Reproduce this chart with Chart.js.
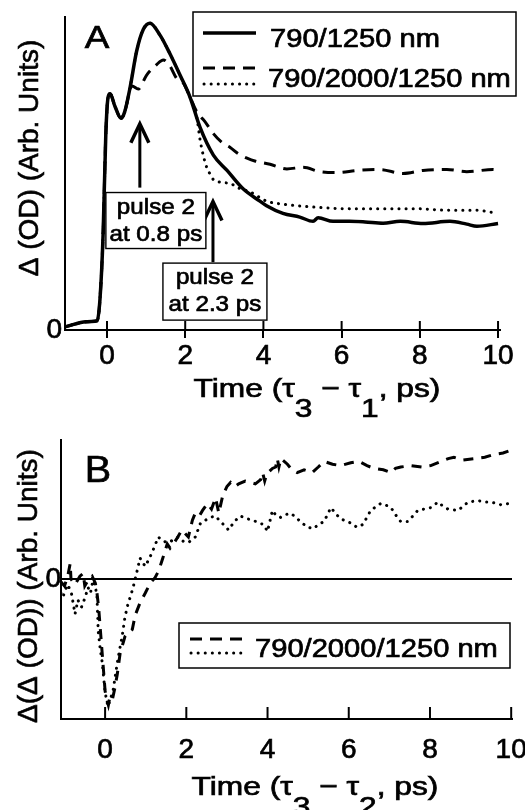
<!DOCTYPE html>
<html>
<head>
<meta charset="utf-8">
<script src="https://cdn.jsdelivr.net/npm/chart.js@4.4.0/dist/chart.umd.min.js"></script>
<style>
html, body { margin: 0; padding: 0; background: #fff; }
#a { position: absolute; left: 0; top: 0; width: 525px; height: 420px; }
#b { position: absolute; left: 0; top: 420px; width: 525px; height: 390px; }
</style>
</head>
<body>
<div id="a"><canvas id="chartA"></canvas></div>
<div id="b"><canvas id="chartB"></canvas></div>
<script>
const FONT = "'Liberation Sans', Arial, Helvetica, sans-serif";
Chart.defaults.font.family = FONT;
Chart.defaults.color = '#000';

const xTicks = [0, 2, 4, 6, 8, 10];
const yTicks = [0];
const legendA = ['790/1250 nm', '790/2000/1250 nm'];
const legendB = '790/2000/1250 nm';

// panel A: 790/1250 nm (solid)
const aSolidX = [-1.07, -0.8, -0.6, -0.4, -0.25, -0.18, -0.1, -0.03, 0.03, 0.08, 0.2, 0.36, 0.45, 0.59, 0.76, 0.93, 1.1, 1.36, 1.61, 1.87, 2.12, 2.38, 2.72, 3.07, 3.48, 3.91, 4.08, 4.5, 4.93, 5.27, 5.4, 5.78, 6.2, 6.6, 7.06, 7.5, 8.08, 8.77, 9.2, 9.46, 10.0];
const aSolidY = [0.01, 0.02, 0.026, 0.028, 0.03, 0.1, 0.31, 0.64, 0.76, 0.77, 0.73, 0.69, 0.71, 0.79, 0.91, 0.98, 1.0, 0.96, 0.90, 0.83, 0.76, 0.66, 0.57, 0.52, 0.46, 0.42, 0.405, 0.38, 0.368, 0.354, 0.366, 0.354, 0.354, 0.352, 0.348, 0.354, 0.347, 0.354, 0.345, 0.338, 0.347];
// panel A: pulse 2 at 0.8 ps (dashed)
const aDashX = [-1.07, -0.8, -0.6, -0.4, -0.25, -0.18, -0.1, -0.03, 0.03, 0.08, 0.2, 0.36, 0.45, 0.64, 0.8, 1.01, 1.27, 1.44, 1.61, 1.78, 1.95, 2.12, 2.3, 2.5, 2.72, 2.95, 3.15, 3.35, 3.58, 3.8, 4.17, 4.6, 5.01, 5.45, 5.91, 6.39, 6.98, 7.57, 8.08, 8.69, 9.2, 9.87, 10.0];
const aDashY = [0.01, 0.02, 0.026, 0.028, 0.03, 0.1, 0.31, 0.64, 0.76, 0.77, 0.73, 0.69, 0.71, 0.795, 0.785, 0.83, 0.865, 0.88, 0.86, 0.82, 0.805, 0.76, 0.71, 0.68, 0.64, 0.61, 0.595, 0.575, 0.56, 0.55, 0.54, 0.525, 0.53, 0.516, 0.513, 0.52, 0.523, 0.51, 0.52, 0.523, 0.516, 0.523, 0.52];
// panel A: pulse 2 at 2.3 ps (dotted)
const aDotX = [-1.07, -0.8, -0.6, -0.4, -0.25, -0.18, -0.1, -0.03, 0.03, 0.08, 0.2, 0.36, 0.45, 0.59, 0.76, 0.93, 1.1, 1.36, 1.61, 1.87, 2.12, 2.3, 2.38, 2.46, 2.55, 2.65, 2.72, 2.85, 2.97, 3.15, 3.32, 3.66, 4.08, 4.5, 5.36, 6.2, 7.06, 7.92, 8.77, 9.45, 10.0];
const aDotY = [0.01, 0.02, 0.026, 0.028, 0.03, 0.1, 0.31, 0.64, 0.76, 0.77, 0.73, 0.69, 0.71, 0.79, 0.91, 0.98, 1.0, 0.96, 0.90, 0.83, 0.76, 0.69, 0.62, 0.57, 0.53, 0.505, 0.49, 0.483, 0.48, 0.478, 0.465, 0.45, 0.42, 0.41, 0.40, 0.395, 0.395, 0.395, 0.39, 0.39, 0.38];

// panel B: difference traces
const bDashX = [-1.09, -1.0, -0.92, -0.86, -0.84, -0.74, -0.62, -0.54, -0.5, -0.4, -0.32, -0.24, -0.2, -0.16, -0.12, -0.08, -0.04, 0.0, 0.04, 0.08, 0.12, 0.18, 0.24, 0.3, 0.37, 0.45, 0.49, 0.58, 0.67, 0.74, 0.86, 0.99, 1.11, 1.23, 1.32, 1.4, 1.53, 1.6, 1.68, 1.79, 1.89, 2.05, 2.15, 2.22, 2.32, 2.4, 2.52, 2.62, 2.72, 2.8, 2.9, 3.0, 3.09, 3.2, 3.29, 3.45, 3.58, 3.7, 3.83, 3.88, 3.93, 3.98, 4.12, 4.2, 4.24, 4.28, 4.33, 4.49, 4.6, 4.73, 4.9, 5.1, 5.25, 5.39, 5.6, 5.8, 6.05, 6.25, 6.45, 6.62, 6.85, 7.04, 7.15, 7.28, 7.53, 7.8, 8.02, 8.27, 8.45, 8.59, 8.8, 9.09, 9.35, 9.58, 9.8, 10.0];
const bDashY = [-0.02, -0.05, 0.02, 0.11, 0.0, -0.04, 0.02, 0.04, -0.05, 0.0, 0.02, -0.03, -0.1, -0.2, -0.35, -0.5, -0.65, -0.8, -0.86, -0.9, -0.84, -0.86, -0.78, -0.68, -0.53, -0.45, -0.41, -0.38, -0.36, -0.26, -0.17, -0.1, -0.03, 0.01, 0.06, 0.13, 0.25, 0.22, 0.25, 0.3, 0.35, 0.3, 0.42, 0.47, 0.45, 0.49, 0.54, 0.5, 0.58, 0.47, 0.6, 0.66, 0.69, 0.66, 0.68, 0.7, 0.69, 0.68, 0.71, 0.76, 0.7, 0.75, 0.79, 0.8, 0.86, 0.8, 0.86, 0.82, 0.78, 0.76, 0.78, 0.76, 0.8, 0.84, 0.82, 0.81, 0.83, 0.84, 0.81, 0.79, 0.78, 0.76, 0.79, 0.8, 0.81, 0.8, 0.81, 0.84, 0.86, 0.87, 0.85, 0.86, 0.87, 0.89, 0.9, 0.92];
const bDotX = [-1.09, -1.04, -0.98, -0.92, -0.83, -0.74, -0.67, -0.58, -0.49, -0.42, -0.36, -0.3, -0.24, -0.2, -0.17, -0.12, -0.07, -0.03, 0.0, 0.07, 0.13, 0.2, 0.3, 0.36, 0.42, 0.49, 0.57, 0.63, 0.69, 0.79, 0.86, 0.92, 0.99, 1.11, 1.2, 1.31, 1.43, 1.56, 1.68, 1.8, 1.92, 2.05, 2.22, 2.35, 2.47, 2.59, 2.72, 2.84, 2.95, 3.04, 3.18, 3.33, 3.5, 3.65, 3.78, 3.9, 4.0, 4.12, 4.22, 4.32, 4.45, 4.57, 4.7, 4.81, 4.98, 5.14, 5.25, 5.39, 5.56, 5.7, 5.8, 6.05, 6.2, 6.35, 6.54, 6.79, 6.9, 7.04, 7.15, 7.28, 7.45, 7.58, 7.7, 7.86, 8.02, 8.2, 8.32, 8.44, 8.69, 8.82, 8.94, 9.19, 9.35, 9.5, 9.75, 9.95];
const bDotY = [-0.1, -0.13, -0.08, -0.04, -0.1, -0.25, -0.15, -0.2, -0.13, -0.06, -0.1, -0.01, -0.05, -0.13, -0.37, -0.5, -0.6, -0.72, -0.81, -0.91, -0.86, -0.79, -0.6, -0.5, -0.41, -0.27, -0.17, -0.12, -0.06, 0.06, 0.15, 0.12, 0.09, 0.16, 0.22, 0.3, 0.27, 0.26, 0.28, 0.3, 0.27, 0.26, 0.3, 0.4, 0.42, 0.44, 0.45, 0.41, 0.38, 0.35, 0.41, 0.45, 0.43, 0.42, 0.4, 0.39, 0.34, 0.49, 0.45, 0.44, 0.46, 0.47, 0.44, 0.41, 0.37, 0.36, 0.39, 0.41, 0.51, 0.46, 0.43, 0.4, 0.37, 0.39, 0.49, 0.54, 0.53, 0.51, 0.46, 0.41, 0.41, 0.45, 0.49, 0.5, 0.51, 0.55, 0.52, 0.5, 0.49, 0.52, 0.55, 0.56, 0.55, 0.55, 0.53, 0.54];

const DASH = [12, 8];
const DOT = [0.1, 7];

function pts(xs, ys) { return xs.map((x, i) => ({ x: x, y: ys[i] })); }

// text drawn left-to-right in pieces, stretched horizontally, lightly stroked for weight
function spans(ctx, parts, x, y, align, sx) {
  let w = 0;
  parts.forEach(p => { ctx.font = p[1] + 'px ' + FONT; w += ctx.measureText(p[0]).width; });
  const start = align === 'center' ? x - w * sx / 2 : x;
  ctx.save();
  ctx.translate(start, y);
  ctx.scale(sx, 1);
  ctx.fillStyle = '#000';
  ctx.strokeStyle = '#000';
  ctx.lineWidth = 0.7;
  ctx.textAlign = 'left';
  ctx.textBaseline = 'alphabetic';
  let cx = 0;
  parts.forEach(p => {
    ctx.font = p[1] + 'px ' + FONT;
    ctx.fillText(p[0], cx, p[2] || 0);
    ctx.strokeText(p[0], cx, p[2] || 0);
    cx += ctx.measureText(p[0]).width;
  });
  ctx.restore();
}

function vText(ctx, t, x, y, size) {
  ctx.save();
  ctx.translate(x, y);
  ctx.rotate(-Math.PI / 2);
  ctx.font = size + 'px ' + FONT;
  ctx.fillStyle = '#000';
  ctx.strokeStyle = '#000';
  ctx.lineWidth = 0.6;
  ctx.textAlign = 'center';
  ctx.textBaseline = 'middle';
  ctx.fillText(t, 0, 0);
  ctx.strokeText(t, 0, 0);
  ctx.restore();
}

function sample(ctx, x1, x2, y, dash, w) {
  ctx.save();
  ctx.strokeStyle = '#000';
  ctx.setLineDash(dash);
  ctx.lineCap = dash === DOT ? 'round' : 'butt';
  ctx.lineWidth = w;
  ctx.beginPath();
  ctx.moveTo(x1, y);
  ctx.lineTo(x2, y);
  ctx.stroke();
  ctx.restore();
}

function upTicks(chart, len) {
  const s = chart.scales.x, ctx = chart.ctx, b = chart.chartArea.bottom;
  ctx.save();
  ctx.strokeStyle = '#000';
  ctx.lineWidth = 2;
  xTicks.forEach(v => {
    const px = s.getPixelForValue(v);
    ctx.beginPath();
    ctx.moveTo(px, b);
    ctx.lineTo(px, b - len);
    ctx.stroke();
  });
  ctx.restore();
}

function arrow(ctx, x, yFrom, yTip) {
  ctx.save();
  ctx.strokeStyle = '#000';
  ctx.lineWidth = 3;
  ctx.beginPath();
  ctx.moveTo(x, yFrom);
  ctx.lineTo(x, yTip + 2);
  ctx.stroke();
  ctx.lineWidth = 3.5;
  ctx.beginPath();
  ctx.moveTo(x - 9, yTip + 20);
  ctx.lineTo(x, yTip + 1);
  ctx.lineTo(x + 9, yTip + 20);
  ctx.stroke();
  ctx.restore();
}

function noteBox(ctx, cx, top, w, h, l1, l2) {
  ctx.save();
  ctx.fillStyle = '#fff';
  ctx.fillRect(cx - w / 2, top, w, h);
  ctx.strokeStyle = '#000';
  ctx.lineWidth = 1.4;
  ctx.strokeRect(cx - w / 2, top, w, h);
  ctx.restore();
  spans(ctx, [[l1, 22]], cx, top + 21, 'center', 1.1);
  spans(ctx, [[l2, 22]], cx, top + 48, 'center', 1.1);
}

const decoA = {
  id: 'decoA',
  afterDraw(chart) {
    const ctx = chart.ctx, xs = chart.scales.x, ys = chart.scales.y;
    upTicks(chart, 9);
    spans(ctx, [['A', 32]], 97, 48, 'center', 1.15);
    // legend
    ctx.save();
    ctx.fillStyle = '#fff';
    ctx.fillRect(193, 12, 323, 84);
    ctx.strokeStyle = '#000';
    ctx.lineWidth = 1.5;
    ctx.strokeRect(193, 12, 323, 84);
    ctx.restore();
    sample(ctx, 203, 256, 33, [], 3.5);
    sample(ctx, 203, 256, 68, DASH, 3);
    sample(ctx, 204, 256, 84, DOT, 3);
    spans(ctx, [[legendA[0], 26]], 270, 47, 'left', 1.12);
    spans(ctx, [[legendA[1], 26]], 268, 87, 'left', 1.12);
    // pulse annotations
    const a1 = xs.getPixelForValue(0.84), a2 = xs.getPixelForValue(2.71);
    arrow(ctx, a1, ys.getPixelForValue(0.464), ys.getPixelForValue(0.675));
    arrow(ctx, a2, ys.getPixelForValue(0.221), ys.getPixelForValue(0.422));
    noteBox(ctx, xs.getPixelForValue(1.25), ys.getPixelForValue(0.448), 100, 56, 'pulse 2', 'at 0.8 ps');
    noteBox(ctx, xs.getPixelForValue(2.76), ys.getPixelForValue(0.218), 104, 57, 'pulse 2', 'at 2.3 ps');
    // axis titles
    spans(ctx, [['Time (', 26], ['τ', 26], ['3', 26, 20], [' − ', 26], ['τ', 26], ['1', 26, 20], [', ps)', 26]], 317, 397, 'center', 1.22);
    vText(ctx, 'Δ (OD) (Arb. Units)', 30, 158, 28);
  }
};

const decoB = {
  id: 'decoB',
  afterDraw(chart) {
    const ctx = chart.ctx;
    upTicks(chart, 12);
    spans(ctx, [['B', 36]], 98, 62, 'center', 1.1);
    ctx.save();
    ctx.fillStyle = '#fff';
    ctx.fillRect(179, 203, 331, 45);
    ctx.strokeStyle = '#000';
    ctx.lineWidth = 1.5;
    ctx.strokeRect(179, 203, 331, 45);
    ctx.restore();
    sample(ctx, 190, 242, 219, DASH, 3);
    sample(ctx, 191, 242, 233, DOT, 3);
    spans(ctx, [[legendB, 26]], 255, 237, 'left', 1.12);
    spans(ctx, [['Time (', 26], ['τ', 26], ['3', 26, 20], [' − ', 26], ['τ', 26], ['2', 26, 20], [', ps)', 26]], 315, 375, 'center', 1.22);
    vText(ctx, 'Δ(Δ (OD)) (Arb. Units)', 29, 166, 28);
  }
};

function xScale(min, max, height, pad, ticksOn) {
  return {
    type: 'linear', min: min, max: max,
    afterBuildTicks: s => { s.ticks = xTicks.map(v => ({ value: v })); },
    afterFit: s => { s.height = height; s.paddingLeft = 0; s.paddingRight = 0; },
    ticks: { font: { size: 28 }, color: '#000', padding: pad, maxRotation: 0, autoSkip: false, textStrokeColor: '#000', textStrokeWidth: 0.7 },
    grid: { display: ticksOn, drawOnChartArea: false, drawTicks: ticksOn, tickLength: 8, color: '#000', lineWidth: 2 },
    border: { display: true, color: '#000', width: 2 }
  };
}

function yScale(min, max, width, pad, zeroLine) {
  return {
    type: 'linear', min: min, max: max,
    afterBuildTicks: s => { s.ticks = yTicks.map(v => ({ value: v })); },
    afterFit: s => { s.width = width; s.paddingTop = 0; s.paddingBottom = 0; },
    ticks: { font: { size: 28 }, color: '#000', padding: pad, textStrokeColor: '#000', textStrokeWidth: 0.7 },
    grid: { display: zeroLine, drawOnChartArea: true, drawTicks: false, color: '#000', lineWidth: 2 },
    border: { display: true, color: '#000', width: 2 }
  };
}

const common = {
  responsive: true,
  maintainAspectRatio: false,
  animation: false,
  events: [],
  plugins: { legend: { display: false }, tooltip: { enabled: false } }
};

new Chart(document.getElementById('chartA'), {
  type: 'line',
  data: {
    datasets: [
      { label: legendA[0], data: pts(aSolidX, aSolidY), borderColor: '#000', borderWidth: 3.5, pointRadius: 0, cubicInterpolationMode: 'monotone' },
      { label: legendA[1] + ' (0.8 ps)', data: pts(aDashX, aDashY), borderColor: '#000', borderWidth: 3, borderDash: DASH, pointRadius: 0, cubicInterpolationMode: 'monotone' },
      { label: legendA[1] + ' (2.3 ps)', data: pts(aDotX, aDotY), borderColor: '#000', borderWidth: 3, borderDash: DOT, borderCapStyle: 'round', pointRadius: 0, cubicInterpolationMode: 'monotone' }
    ]
  },
  options: Object.assign({}, common, {
    layout: { padding: { left: 0, top: 17, right: 25, bottom: 0 } },
    scales: { x: xScale(-1.074, 10.05, 90, 1, true), y: yScale(0, 1.02, 65, 3, false) }
  }),
  plugins: [decoA]
});

new Chart(document.getElementById('chartB'), {
  type: 'line',
  data: {
    datasets: [
      { label: legendB + ' dashed', data: pts(bDashX, bDashY), borderColor: '#000', borderWidth: 3, borderDash: [10, 8], pointRadius: 0, tension: 0 },
      { label: legendB + ' dotted', data: pts(bDotX, bDotY), borderColor: '#000', borderWidth: 3, borderDash: DOT, borderCapStyle: 'round', pointRadius: 0, tension: 0 }
    ]
  },
  options: Object.assign({}, common, {
    layout: { padding: { left: 0, top: 20, right: 13, bottom: 0 } },
    scales: { x: xScale(-1.086, 10.02, 91, 14, false), y: yScale(-1, 0.993, 61, 0, true) }
  }),
  plugins: [decoB]
});
</script>
</body>
</html>
